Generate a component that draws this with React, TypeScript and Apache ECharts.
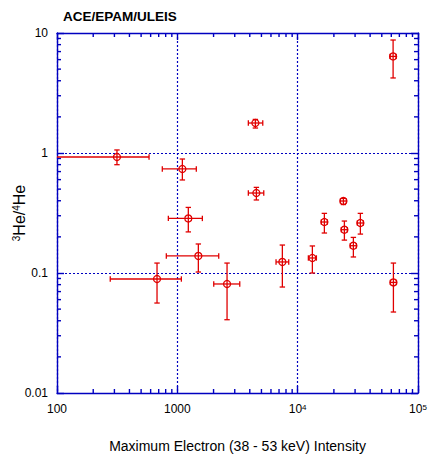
import React, { useEffect, useRef } from "react";
import * as echarts from "echarts";

// Data (x: max electron intensity, y: 3He/4He)
const xVal = [315, 1101, 1234, 1495, 678, 2589, 4453, 4538, 23990, 16670, 24450, 33200, 29040, 7460, 13250, 62470, 62100];
const xLow = [80, 750, 842, 810, 277, 2007, 3891, 3891, 22650, 15740, 23090, 31350, 27420, 6610, 12270, 58990, 58640];
const xHigh = [582, 1438, 1614, 2208, 1080, 3302, 5128, 5227, 25405, 17650, 25890, 35160, 30750, 8430, 14310, 66160, 65760];
const yVal = [0.926, 0.736, 0.285, 0.1387, 0.0891, 0.081, 1.778, 0.464, 0.398, 0.266, 0.2296, 0.261, 0.1688, 0.1236, 0.1334, 0.0835, 6.38];
const yLow = [0.799, 0.596, 0.22, 0.1019, 0.0562, 0.0408, 1.615, 0.406, 0.372, 0.2154, 0.188, 0.211, 0.136, 0.0764, 0.1, 0.0473, 4.22];
const yHigh = [1.06, 0.891, 0.352, 0.1745, 0.121, 0.121, 1.905, 0.517, 0.419, 0.314, 0.271, 0.314, 0.198, 0.171, 0.168, 0.121, 8.74];

// Axis ranges and tick values
const X_MIN = 100;
const X_MAX = 100000;
const Y_MIN = 0.01;
const Y_MAX = 10;
const xMinorTicks = [200, 300, 400, 500, 600, 700, 800, 900, 2000, 3000, 4000, 5000, 6000, 7000, 8000, 9000, 20000, 30000, 40000, 50000, 60000, 70000, 80000, 90000];
const yMinorTicks = [0.02, 0.03, 0.04, 0.05, 0.06, 0.07, 0.08, 0.09, 0.2, 0.3, 0.4, 0.5, 0.6, 0.7, 0.8, 0.9, 2, 3, 4, 5, 6, 7, 8, 9];
const xTickLabels: Record<number, string> = { 100: "100", 1000: "1000", 10000: "10{s|4}", 100000: "10{s|5}" };
const yTickLabels: Record<number, string> = { 0.01: "0.01", 0.1: "0.1", 1: "1", 10: "10" };

const BLUE = "#0000c0";
const RED = "#e00000";
const FONT = "Liberation Sans, Arial, Helvetica, sans-serif";

export default function App() {
  const ref = useRef<HTMLDivElement>(null);

  useEffect(() => {
    document.body.style.margin = "0";
    if (!ref.current) return;
    const chart = echarts.init(ref.current, undefined, { renderer: "svg" });

    const points = xVal.map((x, i) => [x, yVal[i], xLow[i], xHigh[i], yLow[i], yHigh[i]]);
    const xTickData = xMinorTicks.map((v) => [v, Y_MIN]);
    const yTickData = yMinorTicks.map((v) => [X_MIN, v]);

    const axisCommon = {
      type: "log" as const,
      logBase: 10,
      axisLine: { show: true, lineStyle: { color: BLUE, width: 1.4 } },
      axisTick: { show: true, inside: true, length: 7, lineStyle: { color: BLUE, width: 1.4 } },
      minorTick: { show: false },
      minorSplitLine: { show: false },
    };

    const gridLine = { show: true, lineStyle: { color: BLUE, type: [2, 2], width: 1.2 } };

    const option: any = {
      animation: false,
      backgroundColor: "#ffffff",
      title: {
        text: "ACE/EPAM/ULEIS",
        left: 58,
        top: 4,
        textStyle: { fontFamily: FONT, fontSize: 13.5, fontWeight: "bold", color: "#000" },
      },
      grid: { left: 57, right: 13, top: 33, bottom: 65, containLabel: false, outerBoundsMode: "none" },
      xAxis: [
        {
          ...axisCommon,
          position: "bottom",
          min: X_MIN,
          max: X_MAX,
          name: "Maximum Electron (38 - 53 keV) Intensity",
          nameLocation: "middle",
          nameGap: 46,
          nameMoveOverlap: false,
          nameTextStyle: { fontFamily: FONT, fontSize: 14, color: "#000" },
          axisLabel: {
            show: true,
            margin: 10,
            fontFamily: FONT,
            fontSize: 12,
            color: "#000",
            showMinLabel: true,
            showMaxLabel: true,
            formatter: (v: number) => xTickLabels[Math.round(v)] ?? "",
            rich: {
              s: { fontSize: 8, fontFamily: FONT, color: "#000", verticalAlign: "top", lineHeight: 8 },
            },
          },
          splitLine: gridLine,
        },
        {
          ...axisCommon,
          position: "top",
          min: X_MIN,
          max: X_MAX,
          axisLabel: { show: false },
          splitLine: { show: false },
        },
      ],
      yAxis: [
        {
          ...axisCommon,
          position: "left",
          min: Y_MIN,
          max: Y_MAX,
          name: "{s|3}He/{s|4}He",
          nameLocation: "middle",
          nameRotate: 90,
          nameGap: 30,
          nameMoveOverlap: false,
          nameTextStyle: {
            fontFamily: FONT,
            fontSize: 16,
            color: "#000",
            rich: {
              s: { fontSize: 10, fontFamily: FONT, color: "#000", verticalAlign: "top", lineHeight: 10 },
            },
          },
          axisLabel: {
            show: true,
            margin: 9,
            fontFamily: FONT,
            fontSize: 12,
            color: "#000",
            formatter: (v: number) => {
              const k = Object.keys(yTickLabels).find((t) => Math.abs(Math.log10(Number(t)) - Math.log10(v)) < 1e-6);
              return k ? yTickLabels[Number(k)] : "";
            },
          },
          splitLine: gridLine,
        },
        {
          ...axisCommon,
          position: "right",
          min: Y_MIN,
          max: Y_MAX,
          axisLabel: { show: false },
          splitLine: { show: false },
        },
      ],
      series: [
        {
          type: "custom",
          name: "xMinor",
          xAxisIndex: 0,
          yAxisIndex: 0,
          silent: true,
          clip: false,
          encode: { x: 0, y: 1 },
          data: xTickData,
          renderItem: (_p: any, api: any) => {
            const v = api.value(0);
            const b = api.coord([v, Y_MIN]);
            const t = api.coord([v, Y_MAX]);
            const st = { stroke: BLUE, lineWidth: 1.4 };
            return {
              type: "group",
              children: [
                { type: "line", shape: { x1: b[0], y1: b[1], x2: b[0], y2: b[1] - 4 }, style: st },
                { type: "line", shape: { x1: t[0], y1: t[1], x2: t[0], y2: t[1] + 4 }, style: st },
              ],
            };
          },
        },
        {
          type: "custom",
          name: "yMinor",
          xAxisIndex: 0,
          yAxisIndex: 0,
          silent: true,
          clip: false,
          encode: { x: 0, y: 1 },
          data: yTickData,
          renderItem: (_p: any, api: any) => {
            const v = api.value(1);
            const l = api.coord([X_MIN, v]);
            const r = api.coord([X_MAX, v]);
            const st = { stroke: BLUE, lineWidth: 1.4 };
            return {
              type: "group",
              children: [
                { type: "line", shape: { x1: l[0], y1: l[1], x2: l[0] + 4, y2: l[1] }, style: st },
                { type: "line", shape: { x1: r[0], y1: r[1], x2: r[0] - 4, y2: r[1] }, style: st },
              ],
            };
          },
        },
        {
          type: "custom",
          name: "3He/4He",
          xAxisIndex: 0,
          yAxisIndex: 0,
          clip: true,
          encode: { x: 0, y: 1 },
          data: points,
          renderItem: (_p: any, api: any) => {
            const x = api.value(0);
            const y = api.value(1);
            const c = api.coord([x, y]);
            const pl = api.coord([api.value(2), y]);
            const pr = api.coord([api.value(3), y]);
            const pb = api.coord([x, api.value(4)]);
            const pt = api.coord([x, api.value(5)]);
            const st = { stroke: RED, lineWidth: 1.3, fill: null };
            const cap = 2.7;
            return {
              type: "group",
              children: [
                { type: "line", shape: { x1: pl[0], y1: c[1], x2: pr[0], y2: c[1] }, style: st },
                { type: "line", shape: { x1: pl[0], y1: c[1] - cap, x2: pl[0], y2: c[1] + cap }, style: st },
                { type: "line", shape: { x1: pr[0], y1: c[1] - cap, x2: pr[0], y2: c[1] + cap }, style: st },
                { type: "line", shape: { x1: c[0], y1: pt[1], x2: c[0], y2: pb[1] }, style: st },
                { type: "line", shape: { x1: c[0] - cap, y1: pt[1], x2: c[0] + cap, y2: pt[1] }, style: st },
                { type: "line", shape: { x1: c[0] - cap, y1: pb[1], x2: c[0] + cap, y2: pb[1] }, style: st },
                { type: "circle", shape: { cx: c[0], cy: c[1], r: 3.5 }, style: { stroke: RED, lineWidth: 1.3, fill: "none" } },
              ],
            };
          },
        },
      ],
    };

    chart.setOption(option);
    return () => chart.dispose();
  }, []);

  return <div ref={ref} style={{ width: 431, height: 458, position: "absolute", left: 0, top: 0 }} />;
}
